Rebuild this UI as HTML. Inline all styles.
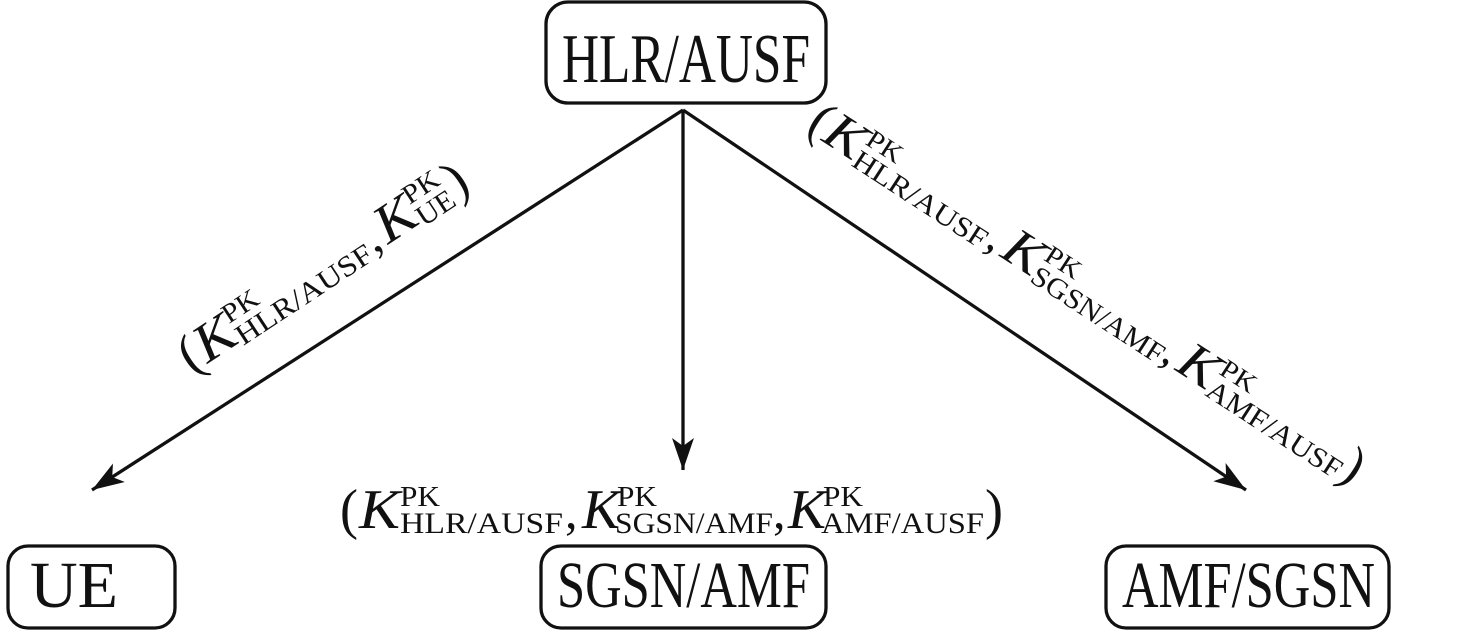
<!DOCTYPE html>
<html><head><meta charset="utf-8"><style>
html,body{margin:0;padding:0;background:#fff;}
svg{display:block;}
text{font-family:"Liberation Serif","Times New Roman",serif;fill:#111;}
.k{font-style:italic;}
</style></head><body>
<svg width="1476" height="631" viewBox="0 0 1476 631" xmlns="http://www.w3.org/2000/svg">
<defs>
<marker id="ah" markerWidth="34" markerHeight="24" refX="32" refY="12" orient="auto" markerUnits="userSpaceOnUse">
<path d="M0,1 L32,12 L0,23 L8,12 Z" fill="#111"/>
</marker>
</defs>
<g fill="none" stroke="#111" stroke-width="3.3">
<rect x="546" y="2" width="280" height="101" rx="22"/>
<rect x="8" y="546" width="167" height="82" rx="20"/>
<rect x="541" y="546" width="285" height="82" rx="20"/>
<rect x="1106" y="546" width="283" height="82" rx="20"/>
<line x1="683" y1="110" x2="92" y2="490" marker-end="url(#ah)"/>
<line x1="683" y1="110" x2="683" y2="470" marker-end="url(#ah)"/>
<line x1="683" y1="110" x2="1246" y2="490" marker-end="url(#ah)"/>
</g>
<text x="562" y="82" font-size="70" textLength="248" lengthAdjust="spacingAndGlyphs">HLR/AUSF</text>
<text x="30" y="607" font-size="66" textLength="88" lengthAdjust="spacingAndGlyphs">UE</text>
<text x="557" y="607" font-size="66" textLength="253" lengthAdjust="spacingAndGlyphs">SGSN/AMF</text>
<text x="1122" y="607" font-size="66" textLength="253" lengthAdjust="spacingAndGlyphs">AMF/SGSN</text>

<g>
<text x="340" y="528" font-size="56" textLength="18" lengthAdjust="spacingAndGlyphs">(</text>
<text class="k" x="359" y="528" font-size="56" textLength="41" lengthAdjust="spacingAndGlyphs">K</text>
<text x="400" y="506" font-size="28" textLength="40" lengthAdjust="spacingAndGlyphs">PK</text>
<text x="400" y="533" font-size="30" textLength="163" lengthAdjust="spacingAndGlyphs">HLR/AUSF</text>
<text x="565" y="528" font-size="50">,</text>
<text class="k" x="582" y="528" font-size="56" textLength="38" lengthAdjust="spacingAndGlyphs">K</text>
<text x="617" y="506" font-size="28" textLength="40" lengthAdjust="spacingAndGlyphs">PK</text>
<text x="615" y="533" font-size="30" textLength="158" lengthAdjust="spacingAndGlyphs">SGSN/AMF</text>
<text x="773" y="528" font-size="50">,</text>
<text class="k" x="788" y="528" font-size="56" textLength="38" lengthAdjust="spacingAndGlyphs">K</text>
<text x="823" y="506" font-size="28" textLength="40" lengthAdjust="spacingAndGlyphs">PK</text>
<text x="821" y="533" font-size="30" textLength="163" lengthAdjust="spacingAndGlyphs">AMF/AUSF</text>
<text x="985" y="528" font-size="56" textLength="18" lengthAdjust="spacingAndGlyphs">)</text>
</g>

<g transform="translate(192,374) rotate(-33.4) scale(0.97)">
<text x="0" y="0" font-size="56" textLength="18" lengthAdjust="spacingAndGlyphs">(</text>
<text class="k" x="19" y="0" font-size="56" textLength="41" lengthAdjust="spacingAndGlyphs">K</text>
<text x="60" y="-22" font-size="28" textLength="40" lengthAdjust="spacingAndGlyphs">PK</text>
<text x="60" y="5" font-size="30" textLength="163" lengthAdjust="spacingAndGlyphs">HLR/AUSF</text>
<text x="225" y="0" font-size="50">,</text>
<text class="k" x="242" y="0" font-size="56" textLength="41" lengthAdjust="spacingAndGlyphs">K</text>
<text x="283" y="-22" font-size="28" textLength="40" lengthAdjust="spacingAndGlyphs">PK</text>
<text x="283" y="5" font-size="30" textLength="42" lengthAdjust="spacingAndGlyphs">UE</text>
<text x="328" y="0" font-size="56" textLength="18" lengthAdjust="spacingAndGlyphs">)</text>
</g>

<g transform="translate(805,130) rotate(33) scale(0.95)">
<text x="0" y="0" font-size="56" textLength="18" lengthAdjust="spacingAndGlyphs">(</text>
<text class="k" x="19" y="0" font-size="56" textLength="41" lengthAdjust="spacingAndGlyphs">K</text>
<text x="60" y="-22" font-size="28" textLength="40" lengthAdjust="spacingAndGlyphs">PK</text>
<text x="60" y="5" font-size="30" textLength="163" lengthAdjust="spacingAndGlyphs">HLR/AUSF</text>
<text x="225" y="0" font-size="50">,</text>
<text class="k" x="243" y="0" font-size="56" textLength="41" lengthAdjust="spacingAndGlyphs">K</text>
<text x="284" y="-22" font-size="28" textLength="40" lengthAdjust="spacingAndGlyphs">PK</text>
<text x="284" y="5" font-size="30" textLength="161" lengthAdjust="spacingAndGlyphs">SGSN/AMF</text>
<text x="445" y="0" font-size="50">,</text>
<text class="k" x="463" y="0" font-size="56" textLength="41" lengthAdjust="spacingAndGlyphs">K</text>
<text x="504" y="-22" font-size="28" textLength="40" lengthAdjust="spacingAndGlyphs">PK</text>
<text x="504" y="5" font-size="30" textLength="164" lengthAdjust="spacingAndGlyphs">AMF/AUSF</text>
<text x="668" y="0" font-size="56" textLength="18" lengthAdjust="spacingAndGlyphs">)</text>
</g>
</svg>
</body></html>
